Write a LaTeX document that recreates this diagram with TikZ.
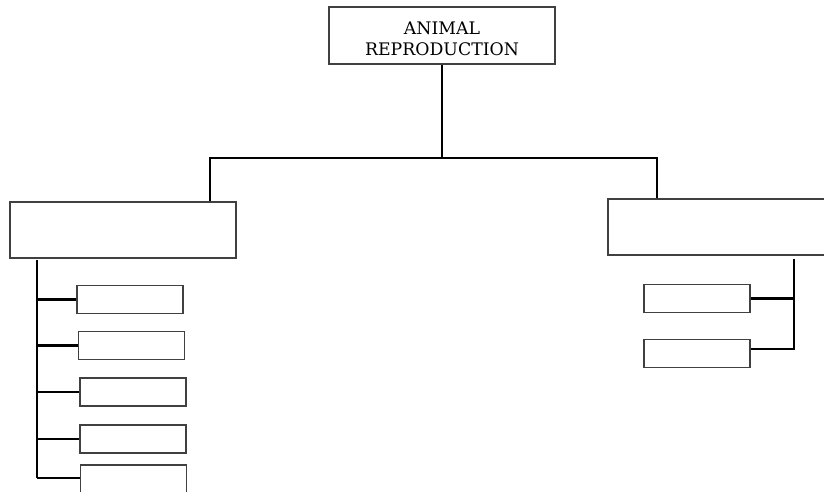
\documentclass[tikz,border=0pt]{standalone}
\usepackage{fontspec}
\newfontfamily\boxfont{DejaVu Serif}
\tikzset{
  frame/.style={draw={rgb,255:red,64;green,64;blue,64},line width=1.2pt,inner sep=0pt,fill=white},
  rootbox/.style={frame,minimum width=226pt,minimum height=57pt,align=center,
    font=\boxfont\fontsize{17.3}{21}\selectfont},
  bigbox/.style={frame,minimum width=226pt,minimum height=56pt},
  smallbox/.style={frame,minimum width=106pt,minimum height=28pt},
  link/.style={draw=black,line width=2.6pt}
}
\begin{document}
\begin{tikzpicture}[x=1pt,y=1pt,yscale=-1]
\useasboundingbox (0,0) rectangle (824,492);

% top
\node[rootbox] (root) at (442,35.5) {\rule{0pt}{20pt}ANIMAL\\REPRODUCTION};
\coordinate (hub) at (442,158);
\coordinate (ldrop) at (210,158);
\coordinate (rdrop) at (657,158);

% second level
\node[bigbox] (left) at (123,230) {};
\node[bigbox] (right) at (721,227) {};

\draw[link] (root.south) -- (hub);
\draw[link,line join=miter] (ldrop |- left.north) -- (ldrop) -- (rdrop) -- (rdrop |- right.north);

% left column
\coordinate (ltop) at (37,260);
\coordinate (lbot) at (37,478);
\node[smallbox] (l1) at (130,299.5) {};
\node[smallbox] (l2) at (131.5,345.5) {};
\node[smallbox] (l3) at (133,392) {};
\node[smallbox] (l4) at (133,439) {};
\node[smallbox] (l5) at (133.5,479) {};
\draw[link] (ltop) -- (lbot);
\foreach \b in {l1,l2,l3,l4}
  \draw[link] (\b.west -| ltop) -- (\b.west);
\draw[link] (lbot) -- (lbot -| l5.west);

% right column
\coordinate (rtop) at (794,259);
\coordinate (rbot) at (794,349);
\node[smallbox] (r1) at (697,298.5) {};
\node[smallbox] (r2) at (697,353.5) {};
\draw[link] (r1.east) -- (r1.east -| rtop);
\draw[link,line join=miter] (rtop) -- (rbot) -- (rbot -| r2.east);

\end{tikzpicture}
\end{document}
